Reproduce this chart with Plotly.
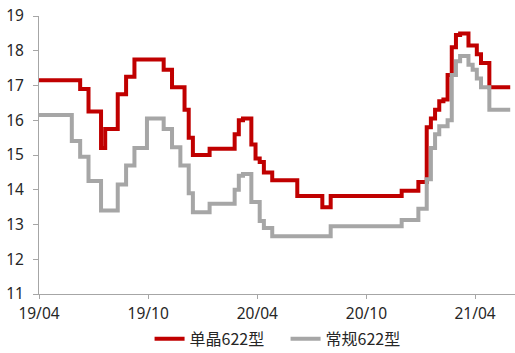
import pandas as pd
import plotly.graph_objects as go

# Weekly observation dates
dates = pd.date_range("2019-03-31", periods=114, freq="7D")

mono_622 = (
    [17.15] * 10 + [16.9] * 2 + [16.25] * 3 + [15.2] + [15.75] * 3
    + [16.75] * 2 + [17.25] * 2 + [17.75] * 7 + [17.45] * 2 + [16.95] * 3
    + [16.3] + [15.5] + [15.0] * 4 + [15.18] * 6 + [15.6] + [16.0]
    + [16.05] * 2 + [15.3] + [14.9] + [14.8] + [14.5] * 2 + [14.27] * 6
    + [13.82] * 6 + [13.5] * 2 + [13.82] * 17 + [13.97] * 4 + [14.22] * 2
    + [15.8] + [16.05] + [16.3] + [16.55] + [16.6] + [17.3] + [18.1]
    + [18.45] + [18.5] * 2 + [18.15] * 2 + [17.9] + [17.65] * 2 + [16.95] * 6
)

multi_622 = (
    [16.15] * 8 + [15.4] * 2 + [14.95] * 2 + [14.25] * 3 + [13.4] * 4
    + [14.15] * 2 + [14.7] * 2 + [15.2] * 3 + [16.05] * 4 + [15.75] * 2
    + [15.22] * 2 + [14.7] * 2 + [13.9] + [13.35] * 4 + [13.6] * 6 + [14.0]
    + [14.4] + [14.45] * 2 + [13.65] * 2 + [13.1] + [12.9] * 2 + [12.66] * 14
    + [12.95] * 17 + [13.13] * 4 + [13.45] * 2 + [14.3] + [15.2] + [15.6]
    + [15.83] * 2 + [16.0] + [17.3] + [17.7] + [17.85] * 2 + [17.6] + [17.45]
    + [17.2] + [16.95] * 2 + [16.3] * 6
)

series_names = ["单晶622型", "常规622型"]
series_colors = ["#C00000", "#A6A6A6"]
y_ticks = [11, 12, 13, 14, 15, 16, 17, 18, 19]

fig = go.Figure()
for name, vals, color in zip(series_names, [mono_622, multi_622], series_colors):
    fig.add_trace(go.Scatter(
        x=dates, y=vals, name=name, mode="lines",
        line=dict(color=color, width=4, shape="hv"),
    ))

axis_color = "#A6A6A6"
tick_font = dict(size=15.5, family="Noto Sans, sans-serif", color="#262626")
fig.update_layout(
    width=515, height=353,
    margin=dict(l=39, r=0, t=16, b=59),
    paper_bgcolor="white", plot_bgcolor="white",
    font=dict(family="Noto Sans CJK SC, Noto Sans, sans-serif", size=16, color="#262626"),
    showlegend=True,
    legend=dict(
        orientation="h", xref="paper", x=0.518, xanchor="center",
        yref="container", y=0.04, yanchor="middle",
        font=dict(size=16, color="#262626"), entrywidth=91,
    ),
    xaxis=dict(
        type="date",
        range=["2019-04-01", "2021-06-07"],
        tick0="2019-04-01", dtick="M6", tickformat="%y/%m",
        showline=True, linecolor=axis_color, linewidth=1,
        ticks="outside", ticklen=4, tickcolor=axis_color,
        showgrid=False, zeroline=False, automargin=False,
        tickfont=tick_font, ticklabelstandoff=1,
    ),
    yaxis=dict(
        range=[11, 19], tickvals=y_ticks,
        showline=True, linecolor=axis_color, linewidth=1,
        ticks="outside", ticklen=5, tickcolor=axis_color,
        showgrid=False, zeroline=False, automargin=False,
        tickfont=tick_font, ticklabelstandoff=6,
    ),
)

fig.write_html("out.html")
